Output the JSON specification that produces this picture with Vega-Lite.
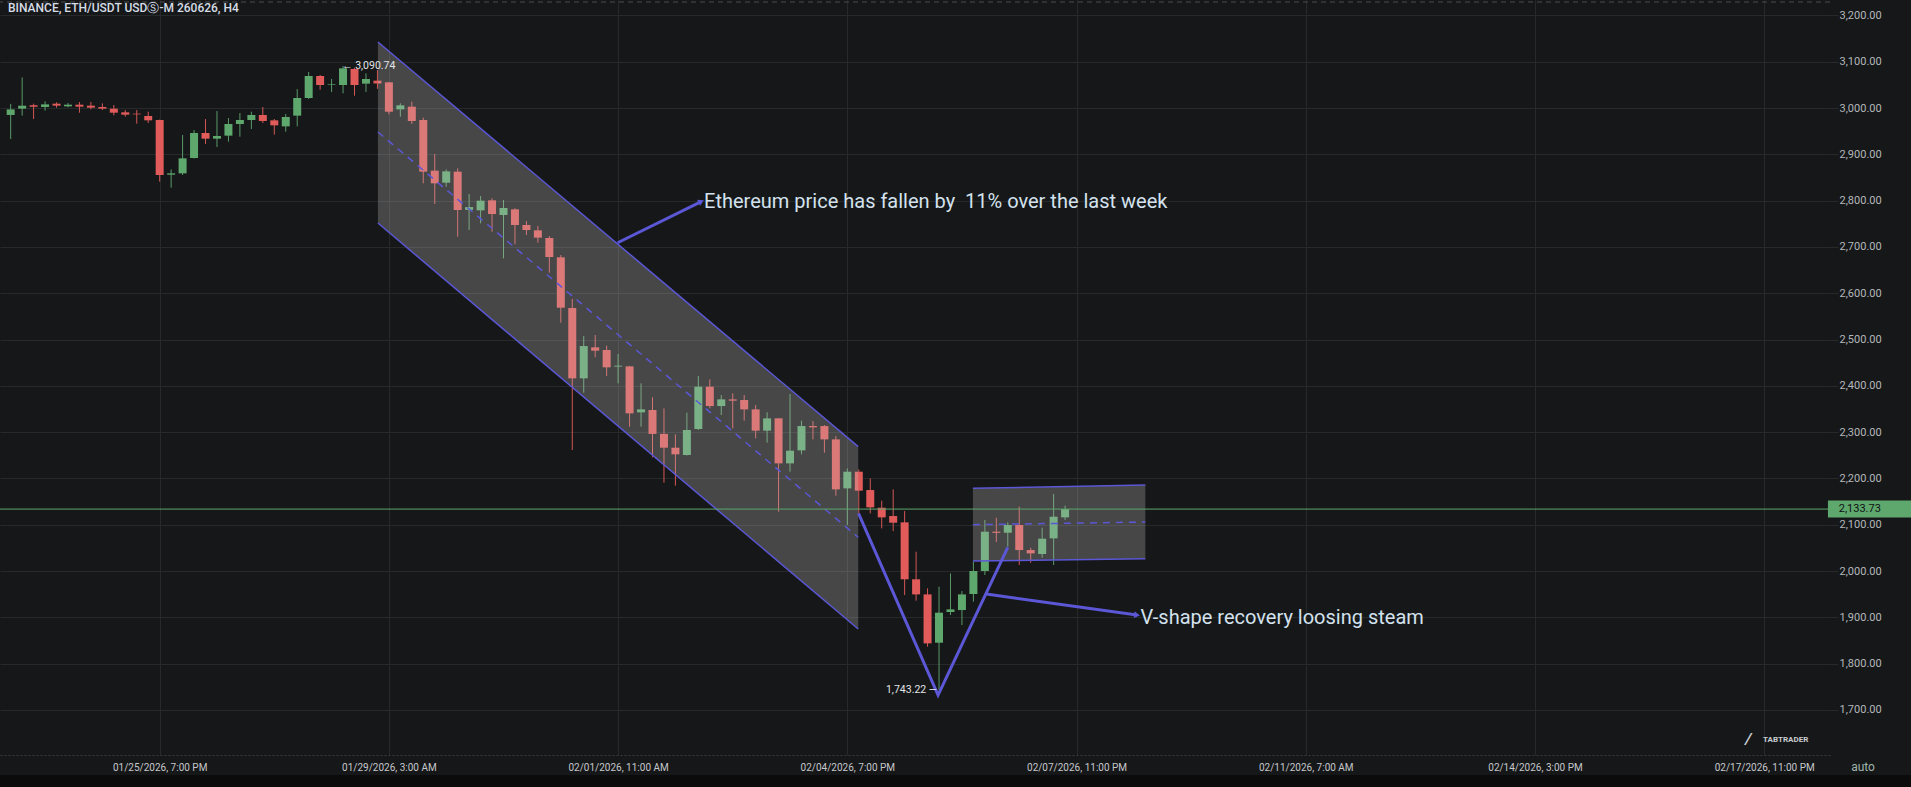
{
"$schema": "https://vega.github.io/schema/vega-lite/v6.json",
"width": 1830, "height": 755,
"autosize": {"type": "none"},
"padding": {"left": 0, "top": 0, "right": 81, "bottom": 32},
"background": "#161718",
"config": {"view": {"stroke": null}, "font": "Roboto"},
"title": {"text": "BINANCE, ETH/USDT USDⓈ-M 260626, H4", "anchor": "start", "frame": "group", "orient": "top", "offset": -20, "dx": 8, "baseline": "middle", "fontSize": 12, "fontWeight": 500, "color": "#d5dde6", "font": "Roboto"},
"datasets": {
"candles": [
{"t":"2026-01-23T15:00Z","o":2985,"h":3009,"l":2933,"c":2997},
{"t":"2026-01-23T19:00Z","o":2998.6,"h":3066,"l":2983.5,"c":3005},
{"t":"2026-01-23T23:00Z","o":3005.8,"h":3009.4,"l":2976.3,"c":3002.9},
{"t":"2026-01-24T03:00Z","o":3002.2,"h":3014.4,"l":2994.3,"c":3007.9},
{"t":"2026-01-24T07:00Z","o":3009.4,"h":3012.3,"l":3000.7,"c":3005.1},
{"t":"2026-01-24T11:00Z","o":3003.6,"h":3010.8,"l":3001.5,"c":3007.2},
{"t":"2026-01-24T15:00Z","o":3007.2,"h":3013,"l":2989.9,"c":3002.9},
{"t":"2026-01-24T19:00Z","o":3005.1,"h":3013,"l":2997.1,"c":3000.7},
{"t":"2026-01-24T23:00Z","o":3002.2,"h":3010.1,"l":2995.7,"c":2998.6},
{"t":"2026-01-25T03:00Z","o":2998.6,"h":3006.5,"l":2984.2,"c":2989.9},
{"t":"2026-01-25T07:00Z","o":2990.7,"h":2995.7,"l":2981.3,"c":2985.6},
{"t":"2026-01-25T11:00Z","o":2987.8,"h":2995.7,"l":2966.2,"c":2986.3},
{"t":"2026-01-25T15:00Z","o":2982.7,"h":2992.1,"l":2967.6,"c":2973.4},
{"t":"2026-01-25T19:00Z","o":2974.1,"h":2975,"l":2840.9,"c":2855.3},
{"t":"2026-01-25T23:00Z","o":2856,"h":2867.5,"l":2827.9,"c":2858.9},
{"t":"2026-01-26T03:00Z","o":2858.9,"h":2941.7,"l":2855.3,"c":2891.3},
{"t":"2026-01-26T07:00Z","o":2892,"h":2952.5,"l":2891,"c":2946},
{"t":"2026-01-26T11:00Z","o":2946,"h":2976.3,"l":2922.3,"c":2933.8},
{"t":"2026-01-26T15:00Z","o":2933.8,"h":2993.5,"l":2915.8,"c":2939.5},
{"t":"2026-01-26T19:00Z","o":2940.3,"h":2978.4,"l":2927.3,"c":2965.5},
{"t":"2026-01-26T23:00Z","o":2965.5,"h":2989.2,"l":2938.1,"c":2974.1},
{"t":"2026-01-27T03:00Z","o":2974.1,"h":2992.1,"l":2954.7,"c":2984.9},
{"t":"2026-01-27T07:00Z","o":2984.9,"h":3002.2,"l":2967.6,"c":2972},
{"t":"2026-01-27T11:00Z","o":2973.4,"h":2976.3,"l":2942.4,"c":2962.6},
{"t":"2026-01-27T15:00Z","o":2960.4,"h":2987.1,"l":2948.9,"c":2980.6},
{"t":"2026-01-27T19:00Z","o":2983.5,"h":3041.1,"l":2960.4,"c":3021.6},
{"t":"2026-01-27T23:00Z","o":3021.6,"h":3077.8,"l":3019.5,"c":3069.1},
{"t":"2026-01-28T03:00Z","o":3069.1,"h":3071.3,"l":3039.6,"c":3049.7},
{"t":"2026-01-28T07:00Z","o":3049.7,"h":3062.7,"l":3034.6,"c":3051},
{"t":"2026-01-28T11:00Z","o":3049.7,"h":3090.74,"l":3031.7,"c":3085.7},
{"t":"2026-01-28T15:00Z","o":3084.3,"h":3087,"l":3026.7,"c":3049.7},
{"t":"2026-01-28T19:00Z","o":3052.6,"h":3074.9,"l":3034.6,"c":3062.7},
{"t":"2026-01-28T23:00Z","o":3059.1,"h":3082,"l":3041.5,"c":3053},
{"t":"2026-01-29T03:00Z","o":3055.5,"h":3056,"l":2986.3,"c":2992},
{"t":"2026-01-29T07:00Z","o":2997.1,"h":3010.1,"l":2981.3,"c":3005.8},
{"t":"2026-01-29T11:00Z","o":3002.9,"h":3013.7,"l":2965.5,"c":2972},
{"t":"2026-01-29T15:00Z","o":2974.1,"h":2979.1,"l":2837.3,"c":2862.5},
{"t":"2026-01-29T19:00Z","o":2864.7,"h":2900.7,"l":2792.7,"c":2837.3},
{"t":"2026-01-29T23:00Z","o":2838.7,"h":2867.5,"l":2830.1,"c":2863.2},
{"t":"2026-01-30T03:00Z","o":2862.5,"h":2869.7,"l":2722.1,"c":2779.7},
{"t":"2026-01-30T07:00Z","o":2780,"h":2814.3,"l":2736.5,"c":2786},
{"t":"2026-01-30T11:00Z","o":2779,"h":2809.9,"l":2750.9,"c":2799.9},
{"t":"2026-01-30T15:00Z","o":2800.6,"h":2805,"l":2732.9,"c":2771.1},
{"t":"2026-01-30T19:00Z","o":2768.9,"h":2801.3,"l":2675.3,"c":2784.1},
{"t":"2026-01-30T23:00Z","o":2781.1,"h":2783.3,"l":2705.5,"c":2747.3},
{"t":"2026-01-31T03:00Z","o":2747.3,"h":2755.9,"l":2725.7,"c":2736.5},
{"t":"2026-01-31T07:00Z","o":2735.8,"h":2745.1,"l":2709.1,"c":2720},
{"t":"2026-01-31T11:00Z","o":2719.2,"h":2723.5,"l":2644.3,"c":2678.2},
{"t":"2026-01-31T15:00Z","o":2677.5,"h":2682.5,"l":2536.3,"c":2568.7},
{"t":"2026-01-31T19:00Z","o":2568,"h":2587.5,"l":2261.3,"c":2416.1},
{"t":"2026-01-31T23:00Z","o":2416.1,"h":2507.5,"l":2385.1,"c":2485.9},
{"t":"2026-02-01T03:00Z","o":2483.1,"h":2509.7,"l":2461.5,"c":2475.9},
{"t":"2026-02-01T07:00Z","o":2477.3,"h":2486.7,"l":2421.1,"c":2439.9},
{"t":"2026-02-01T11:00Z","o":2441.5,"h":2468.7,"l":2405.3,"c":2443.5},
{"t":"2026-02-01T15:00Z","o":2442,"h":2443,"l":2311.7,"c":2340.5},
{"t":"2026-02-01T19:00Z","o":2342.7,"h":2405.3,"l":2311.7,"c":2349.1},
{"t":"2026-02-01T23:00Z","o":2347.7,"h":2375.1,"l":2245.5,"c":2296.1},
{"t":"2026-02-02T03:00Z","o":2296.1,"h":2351.3,"l":2190.7,"c":2266.3},
{"t":"2026-02-02T07:00Z","o":2266.3,"h":2295.1,"l":2184.3,"c":2252},
{"t":"2026-02-02T11:00Z","o":2250.5,"h":2342,"l":2249.5,"c":2304.5},
{"t":"2026-02-02T15:00Z","o":2306.7,"h":2421.1,"l":2304.5,"c":2398.1},
{"t":"2026-02-02T19:00Z","o":2398.1,"h":2413.9,"l":2351.3,"c":2356.3},
{"t":"2026-02-02T23:00Z","o":2356.3,"h":2380.1,"l":2336.9,"c":2370.7},
{"t":"2026-02-03T03:00Z","o":2370.7,"h":2383.7,"l":2308.1,"c":2367.9},
{"t":"2026-02-03T07:00Z","o":2369.3,"h":2380.1,"l":2324.7,"c":2349.1},
{"t":"2026-02-03T11:00Z","o":2349.1,"h":2358.5,"l":2286.5,"c":2303.1},
{"t":"2026-02-03T15:00Z","o":2303.1,"h":2342.7,"l":2277.2,"c":2329.7},
{"t":"2026-02-03T19:00Z","o":2329.7,"h":2330.5,"l":2128.1,"c":2232.5},
{"t":"2026-02-03T23:00Z","o":2232.5,"h":2382.3,"l":2214.5,"c":2259.9},
{"t":"2026-02-04T03:00Z","o":2260.6,"h":2324.7,"l":2252,"c":2313.1},
{"t":"2026-02-04T07:00Z","o":2313.1,"h":2323.9,"l":2284.3,"c":2310.3},
{"t":"2026-02-04T11:00Z","o":2313.1,"h":2315.3,"l":2255.5,"c":2284.3},
{"t":"2026-02-04T15:00Z","o":2284.3,"h":2291.5,"l":2162.7,"c":2176.3},
{"t":"2026-02-04T19:00Z","o":2178.5,"h":2221.7,"l":2099.3,"c":2214.5},
{"t":"2026-02-04T23:00Z","o":2214.5,"h":2219.5,"l":2124.5,"c":2173.5},
{"t":"2026-02-05T03:00Z","o":2174.9,"h":2200.1,"l":2124.5,"c":2137.5},
{"t":"2026-02-05T07:00Z","o":2136.7,"h":2151.9,"l":2092.1,"c":2115.9},
{"t":"2026-02-05T11:00Z","o":2118.7,"h":2176.3,"l":2086.3,"c":2104.3},
{"t":"2026-02-05T15:00Z","o":2105.1,"h":2129.5,"l":1948.1,"c":1982.1},
{"t":"2026-02-05T19:00Z","o":1982.1,"h":2041.7,"l":1935.9,"c":1949.5},
{"t":"2026-02-05T23:00Z","o":1949.5,"h":1962.5,"l":1836.5,"c":1843.7},
{"t":"2026-02-06T03:00Z","o":1845.1,"h":1966.1,"l":1743.22,"c":1910},
{"t":"2026-02-06T07:00Z","o":1911.4,"h":1994.9,"l":1904.9,"c":1917.1},
{"t":"2026-02-06T11:00Z","o":1915.7,"h":1956.7,"l":1883.3,"c":1949.5},
{"t":"2026-02-06T15:00Z","o":1950.3,"h":2020.1,"l":1933.7,"c":2000},
{"t":"2026-02-06T19:00Z","o":2000,"h":2110.1,"l":1991.3,"c":2084.9},
{"t":"2026-02-06T23:00Z","o":2084.9,"h":2115.1,"l":2062.6,"c":2082.4},
{"t":"2026-02-07T03:00Z","o":2082.7,"h":2105.1,"l":2052.5,"c":2099.3},
{"t":"2026-02-07T07:00Z","o":2099.3,"h":2138.9,"l":2012.9,"c":2045.3},
{"t":"2026-02-07T11:00Z","o":2045.3,"h":2050.3,"l":2017.9,"c":2038.1},
{"t":"2026-02-07T15:00Z","o":2036.7,"h":2093.5,"l":2028.7,"c":2069.8},
{"t":"2026-02-07T19:00Z","o":2070.5,"h":2166.3,"l":2012.9,"c":2117.3},
{"t":"2026-02-07T23:00Z","o":2115.9,"h":2141.1,"l":2110.1,"c":2133.73}
],
"channel": [
{"t":"2026-01-28T23:10Z","top":3142.5,"mid":2948.2,"bot":2751.6},
{"t":"2026-02-04T22:48Z","top":2268.5,"mid":2072.8,"bot":1874.7}
],
"box": [
{"t":"2026-02-06T14:50Z","top":2178.6,"mid":2100,"bot":2021.6},
{"t":"2026-02-09T03:00Z","top":2185.7,"mid":2105.8,"bot":2026.6}
],
"vshape": [
{"t":"2026-02-04T22:54Z","p":2124.6},
{"t":"2026-02-06T02:40Z","p":1732},
{"t":"2026-02-07T03:00Z","p":2051.2}
],
"arrows": [
{"id":1,"t":"2026-02-01T10:50Z","p":2709,"end":false},
{"id":1,"t":"2026-02-02T16:00Z","p":2798,"end":true},
{"id":2,"t":"2026-02-06T19:30Z","p":1950.3,"end":false},
{"id":2,"t":"2026-02-09T00:06Z","p":1905,"end":true}
],
"notes": [
{"t":"2026-02-02T17:00Z","p":2797.4,"text":"Ethereum price has fallen by \u00a011% over the last week"},
{"t":"2026-02-09T01:18Z","p":1897.8,"text":"V-shape recovery loosing steam"}
],
"extremes": [
{"t":"2026-01-28T11:00Z","p":3090.74,"text":"← 3,090.74","side":"high"},
{"t":"2026-02-06T03:00Z","p":1743.22,"text":"1,743.22 —","side":"low"}
],
"last": [{"p":2133.73,"label":"2,133.73","tagc":"2026-02-19T15:54Z","tagt":"2026-02-19T05:00Z"}],
"marks": [
{"t":"2026-02-19T13:30Z","p":1576.7,"text":"auto","kind":"auto"},
{"t":"2026-02-18T02:36Z","p":1635,"text":"TABTRADER","kind":"brand"},
{"t":"2026-02-17T21:24Z","p":1636,"text":"⁄","kind":"logo"}
]
},
"layer": [
{"data":{"values":[{}]},
 "mark":{"type":"rect","color":"#0b0b0c"},
 "encoding":{
  "x":{"datum":{"year":2026,"month":1,"date":20,"utc":true},"type":"temporal","title":null,
   "scale":{"type":"utc","domain":[{"year":2026,"month":1,"date":23,"hours":13,"minutes":1,"utc":true},{"year":2026,"month":2,"date":19,"hours":0,"minutes":13,"utc":true}]},
   "axis":{"values":[{"year":2026,"month":1,"date":25,"hours":19,"utc":true},{"year":2026,"month":1,"date":29,"hours":3,"utc":true},{"year":2026,"month":2,"date":1,"hours":11,"utc":true},{"year":2026,"month":2,"date":4,"hours":19,"utc":true},{"year":2026,"month":2,"date":8,"hours":3,"utc":true},{"year":2026,"month":2,"date":11,"hours":11,"utc":true},{"year":2026,"month":2,"date":14,"hours":19,"utc":true},{"year":2026,"month":2,"date":18,"hours":3,"utc":true}],
    "labelExpr":"utcFormat(datum.value - (datum.value > utc(2026,1,6) ? 14400000 : 0), '%m/%d/%Y, %-I:%M %p')",
    "title":null,"grid":true,"gridColor":"#27292b","gridWidth":1,"domain":true,"domainColor":"#3a3b3d","domainDash":[2,2],"ticks":false,"labelPadding":7,"labelFont":"Roboto","labelFontSize":10,"labelColor":"#c5c8cc","labelFlush":false,"labelOverlap":false}},
  "x2":{"datum":{"year":2026,"month":2,"date":23,"utc":true}},
  "y":{"datum":1559.4,"type":"quantitative","title":null,
   "scale":{"domain":[1602.6,3233.3],"nice":false,"zero":false},
   "axis":{"orient":"right","values":[1700,1800,1900,2000,2100,2200,2300,2400,2500,2600,2700,2800,2900,3000,3100,3200],"format":",.2f","title":null,"grid":true,"gridColor":"#27292b","domain":false,"tickColor":"#27292b","tickSize":8,"labelPadding":1,"labelFontSize":11,"labelColor":"#b4b7bb","labelFont":"Roboto","labelFlush":false,"labelOverlap":false}},
  "y2":{"datum":1500}}},
{"data":{"values":[{}]},
 "mark":{"type":"rule","color":"#4b4c4e","strokeDash":[5,4],"strokeWidth":1},
 "encoding":{"y":{"datum":3229,"type":"quantitative","title":null}}},
{"data":{"name":"candles"},
 "mark":{"type":"rule","strokeWidth":1},
 "encoding":{
  "x":{"field":"t","type":"temporal","title":null},
  "y":{"field":"l","type":"quantitative","title":null},
  "y2":{"field":"h"},
  "color":{"condition":{"test":"datum.c >= datum.o","value":"#5a9a68"},"value":"#d55656"}}},
{"data":{"name":"candles"},
 "mark":{"type":"bar","size":8},
 "encoding":{
  "x":{"field":"t","type":"temporal","title":null},
  "y":{"field":"o","type":"quantitative","title":null},
  "y2":{"field":"c"},
  "color":{"condition":{"test":"datum.c >= datum.o","value":"#5ea86e"},"value":"#e15b5b"}}},
{"data":{"name":"channel"},
 "mark":{"type":"area","color":"#cccccc","opacity":0.27},
 "encoding":{"x":{"field":"t","type":"temporal","title":null},"y":{"field":"top","type":"quantitative","title":null},"y2":{"field":"bot"}}},
{"data":{"name":"box"},
 "mark":{"type":"area","color":"#cccccc","opacity":0.27},
 "encoding":{"x":{"field":"t","type":"temporal","title":null},"y":{"field":"top","type":"quantitative","title":null},"y2":{"field":"bot"}}},
{"data":{"name":"channel"},
 "mark":{"type":"line","color":"#5b57d6","strokeWidth":1.5},
 "encoding":{"x":{"field":"t","type":"temporal","title":null},"y":{"field":"top","type":"quantitative","title":null}}},
{"data":{"name":"channel"},
 "mark":{"type":"line","color":"#5b57d6","strokeWidth":1.5},
 "encoding":{"x":{"field":"t","type":"temporal","title":null},"y":{"field":"bot","type":"quantitative","title":null}}},
{"data":{"name":"channel"},
 "mark":{"type":"line","color":"#5b57d6","strokeWidth":1.5,"strokeDash":[7,6]},
 "encoding":{"x":{"field":"t","type":"temporal","title":null},"y":{"field":"mid","type":"quantitative","title":null}}},
{"data":{"name":"box"},
 "mark":{"type":"line","color":"#5b57d6","strokeWidth":1.5},
 "encoding":{"x":{"field":"t","type":"temporal","title":null},"y":{"field":"top","type":"quantitative","title":null}}},
{"data":{"name":"box"},
 "mark":{"type":"line","color":"#5b57d6","strokeWidth":1.5},
 "encoding":{"x":{"field":"t","type":"temporal","title":null},"y":{"field":"bot","type":"quantitative","title":null}}},
{"data":{"name":"box"},
 "mark":{"type":"line","color":"#5b57d6","strokeWidth":1.5,"strokeDash":[7,6]},
 "encoding":{"x":{"field":"t","type":"temporal","title":null},"y":{"field":"mid","type":"quantitative","title":null}}},
{"data":{"name":"last"},
 "mark":{"type":"rule","color":"#5ea86e","strokeWidth":1},
 "encoding":{"y":{"field":"p","type":"quantitative","title":null}}},
{"data":{"name":"vshape"},
 "mark":{"type":"line","color":"#5b57d6","strokeWidth":3,"strokeJoin":"miter"},
 "encoding":{"x":{"field":"t","type":"temporal","title":null},"y":{"field":"p","type":"quantitative","title":null}}},
{"data":{"name":"arrows"},
 "mark":{"type":"line","color":"#5b57d6","strokeWidth":3},
 "encoding":{"x":{"field":"t","type":"temporal","title":null},"y":{"field":"p","type":"quantitative","title":null},"detail":{"field":"id"}}},
{"data":{"name":"arrows"},
 "transform":[{"filter":"datum.end && datum.id == 1"}],
 "mark":{"type":"point","shape":"triangle-right","filled":true,"color":"#5b57d6","opacity":1,"size":45,"angle":334},
 "encoding":{"x":{"field":"t","type":"temporal","title":null},"y":{"field":"p","type":"quantitative","title":null}}},
{"data":{"name":"arrows"},
 "transform":[{"filter":"datum.end && datum.id == 2"}],
 "mark":{"type":"point","shape":"triangle-right","filled":true,"color":"#5b57d6","opacity":1,"size":45,"angle":8},
 "encoding":{"x":{"field":"t","type":"temporal","title":null},"y":{"field":"p","type":"quantitative","title":null}}},
{"data":{"name":"notes"},
 "mark":{"type":"text","align":"left","baseline":"middle","font":"Roboto","fontSize":20,"color":"#d3e2ee"},
 "encoding":{"x":{"field":"t","type":"temporal","title":null},"y":{"field":"p","type":"quantitative","title":null},"text":{"field":"text"}}},
{"data":{"name":"extremes"},
 "transform":[{"filter":"datum.side == 'high'"}],
 "mark":{"type":"text","align":"left","baseline":"middle","font":"Roboto","fontSize":10.5,"color":"#e2e4e8","dx":-1},
 "encoding":{"x":{"field":"t","type":"temporal","title":null},"y":{"field":"p","type":"quantitative","title":null},"text":{"field":"text"}}},
{"data":{"name":"extremes"},
 "transform":[{"filter":"datum.side == 'low'"}],
 "mark":{"type":"text","align":"right","baseline":"middle","font":"Roboto","fontSize":10.5,"color":"#e2e4e8","dx":-2},
 "encoding":{"x":{"field":"t","type":"temporal","title":null},"y":{"field":"p","type":"quantitative","title":null},"text":{"field":"text"}}},
{"data":{"name":"last"},
 "mark":{"type":"tick","orient":"horizontal","color":"#5ea86e","opacity":1,"size":84,"thickness":17},
 "encoding":{"x":{"field":"tagc","type":"temporal","title":null},"y":{"field":"p","type":"quantitative","title":null}}},
{"data":{"name":"last"},
 "mark":{"type":"text","align":"left","baseline":"middle","font":"Roboto","fontSize":11,"color":"#0f1011"},
 "encoding":{"x":{"field":"tagt","type":"temporal","title":null},"y":{"field":"p","type":"quantitative","title":null},"text":{"field":"label"}}},
{"data":{"name":"marks"},
 "transform":[{"filter":"datum.kind == 'auto'"}],
 "mark":{"type":"text","align":"center","baseline":"middle","font":"Roboto","fontSize":12,"color":"#9fb4ab"},
 "encoding":{"x":{"field":"t","type":"temporal","title":null},"y":{"field":"p","type":"quantitative","title":null},"text":{"field":"text"}}},
{"data":{"name":"marks"},
 "transform":[{"filter":"datum.kind == 'brand'"}],
 "mark":{"type":"text","align":"left","baseline":"middle","font":"Roboto","fontSize":8,"fontWeight":"bold","color":"#c8ccd0"},
 "encoding":{"x":{"field":"t","type":"temporal","title":null},"y":{"field":"p","type":"quantitative","title":null},"text":{"field":"text"}}},
{"data":{"name":"marks"},
 "transform":[{"filter":"datum.kind == 'logo'"}],
 "mark":{"type":"text","align":"center","baseline":"middle","font":"DejaVu Sans","fontSize":15,"fontWeight":"bold","color":"#c8ccd0"},
 "encoding":{"x":{"field":"t","type":"temporal","title":null},"y":{"field":"p","type":"quantitative","title":null},"text":{"field":"text"}}}
]
}
